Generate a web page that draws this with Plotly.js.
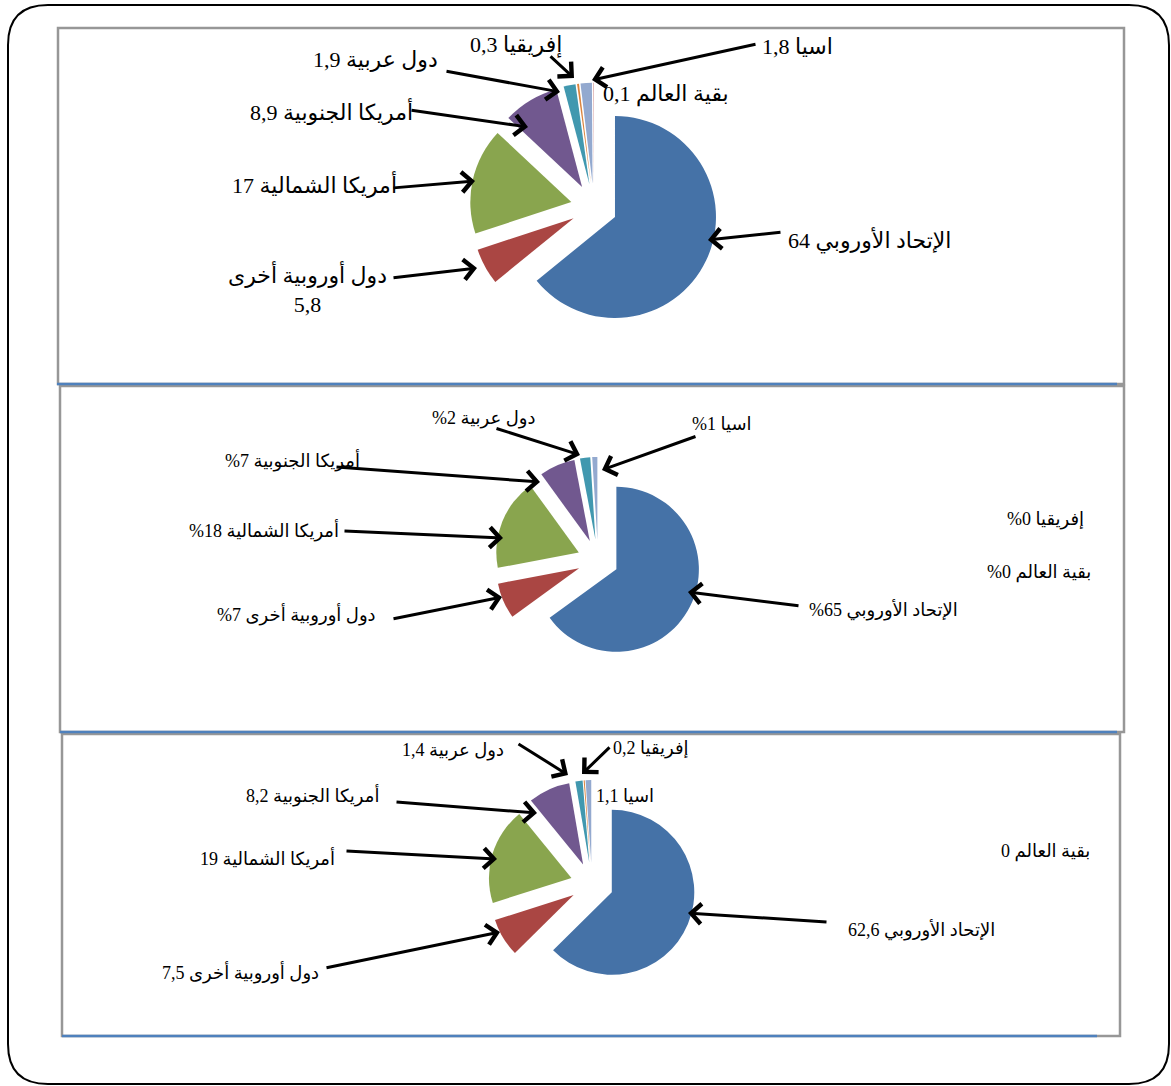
<!DOCTYPE html>
<html><head><meta charset="utf-8">
<script src="https://cdn.plot.ly/plotly-3.0.1.min.js"></script>
<style>html,body{margin:0;padding:0;background:#fff}</style>
</head><body><div id="chart" style="width:1171px;height:1086px"></div>
<script>
// ---- data ----
const regions = ['الإتحاد الأوروبي','دول أوروبية أخرى','أمريكا الشمالية','أمريكا الجنوبية','دول عربية','إفريقيا','اسيا','بقية العالم'];
const values1 = [64, 5.8, 17, 8.9, 1.9, 0.3, 1.8, 0.1];
const values2 = [65, 7, 18, 7, 2, 0, 1, 0];          // percentages
const values3 = [62.6, 7.5, 19, 8.2, 1.4, 0.2, 1.1, 0];
const colors = ['#4572A7','#AA4643','#89A54E','#71588F','#4198AF','#DB843D','#93A9CF','#D19392'];

// ---- layout helpers ----
const W = 1171, H = 1086;
const px = x => x / W, py = y => 1 - y / H;
const RLE = '\u202B', PDF = '\u202C';
const rtl = s => s.split('<br>').map(l => RLE + l + PDF).join('<br>');
const comma = v => String(v).replace('.', ',');

// label placement per panel: [textX, textY, tail/tip arrow or null]
const panels = [
  { values: values1, cx: 594, cy: 207, r: 101, pull: 0.23, font: 22,
    fmt: (n, v, i) => i === 1 ? n + '<br>' + comma(v) : n + ' ' + comma(v),
    pos: [
      [869, 240, [782, 232, 708, 240]],
      [307, 289, [392, 278, 477, 268]],
      [314, 184, [392, 188, 475, 181]],
      [331, 112, [410, 110, 528, 127]],
      [375, 60,  [445, 71, 560, 92]],
      [516, 45,  [549, 55, 574, 78]],
      [797, 46,  [757, 44, 592, 80]],
      [666, 94,  null]
    ]},
  { values: values2, cx: 598, cy: 560, r: 82.5, pull: 0.25, font: 18,
    fmt: (n, v) => n + ' ' + v + '%',
    pos: [
      [883, 610, [800, 606, 688, 592]],
      [296, 614, [392, 619, 502, 597]],
      [264, 530, [343, 531, 503, 538]],
      [292, 460, [335, 467, 540, 482]],
      [484, 418, [495, 428, 580, 455]],
      [1045, 519, null],
      [722, 424, [697, 436, 602, 470]],
      [1039, 572, null]
    ]},
  { values: values3, cx: 592, cy: 884, r: 82.5, pull: 0.26, font: 18,
    fmt: (n, v) => n + ' ' + comma(v),
    pos: [
      [921, 930, [828, 922, 688, 913]],
      [240, 972, [325, 968, 500, 932]],
      [267, 858, [345, 851, 497, 859]],
      [312, 795, [395, 802, 537, 813]],
      [453, 750, [517, 743, 568, 775]],
      [651, 748, [611, 746, 582, 774]],
      [625, 796, null],
      [1045, 851, null]
    ]}
];

const FONT = "'Liberation Serif', 'Times New Roman', 'DejaVu Sans', serif";
const traces = [], annotations = [];
panels.forEach(p => {
  const half = p.r * (1 + p.pull);
  traces.push({
    type: 'pie', values: p.values, labels: regions,
    marker: { colors: colors, line: { width: 0 } },
    sort: false, direction: 'clockwise', rotation: 0,
    pull: p.values.map(() => p.pull),
    textinfo: 'none', hoverinfo: 'skip', showlegend: false,
    domain: { x: [px(p.cx - half), px(p.cx + half)], y: [py(p.cy + half), py(p.cy - half)] }
  });
  p.pos.forEach((q, i) => {
    annotations.push({
      xref: 'paper', yref: 'paper', x: px(q[0]), y: py(q[1]),
      xanchor: 'center', yanchor: 'middle', showarrow: false,
      text: rtl(p.fmt(regions[i], p.values[i], i)),
      font: { family: FONT, size: p.font, color: '#000' }
    });
    if (q[2]) {
      const a = q[2];
      annotations.push({
        xref: 'paper', yref: 'paper', x: px(a[2]), y: py(a[3]),
        ax: a[0] - a[2], ay: a[1] - a[3], text: '',
        showarrow: true, arrowhead: 4, arrowsize: 1.3, arrowwidth: 3, arrowcolor: '#000'
      });
    }
  });
});

// frames
const L = 8, T = 5, R = 1169, B = 1084, rad = 40;
const P = (x, y) => px(x) + ',' + py(y);
const outer = 'M ' + P(L + rad, T) + ' L ' + P(R - rad, T) + ' Q ' + P(R, T) + ' ' + P(R, T + rad) +
  ' L ' + P(R, B - rad) + ' Q ' + P(R, B) + ' ' + P(R - rad, B) +
  ' L ' + P(L + rad, B) + ' Q ' + P(L, B) + ' ' + P(L, B - rad) +
  ' L ' + P(L, T + rad) + ' Q ' + P(L, T) + ' ' + P(L + rad, T) + ' Z';
const gray = '#979797', blue = '#4F81BD';
const box = (x0, y0, x1, y1) => ({ type: 'rect', xref: 'paper', yref: 'paper', x0: px(x0), x1: px(x1), y0: py(y1), y1: py(y0), line: { color: gray, width: 2.5 }, layer: 'below' });
const bline = (x0, x1, y) => ({ type: 'line', xref: 'paper', yref: 'paper', x0: px(x0), x1: px(x1), y0: py(y), y1: py(y), line: { color: blue, width: 2.5 }, layer: 'below' });
const shapes = [
  { type: 'path', xref: 'paper', yref: 'paper', path: outer, line: { color: '#000', width: 2 } },
  box(58, 28, 1124, 384), box(60, 386, 1124, 732), box(62, 734, 1120, 1036),
  bline(57, 1117, 384), bline(60, 1117, 732), bline(62, 1097, 1036)
];

Plotly.newPlot('chart', traces, {
  width: W, height: H, margin: { l: 0, r: 0, t: 0, b: 0 },
  paper_bgcolor: '#fff', plot_bgcolor: '#fff', showlegend: false,
  shapes: shapes, annotations: annotations
}, { displayModeBar: false, staticPlot: true });
</script>
</body></html>
